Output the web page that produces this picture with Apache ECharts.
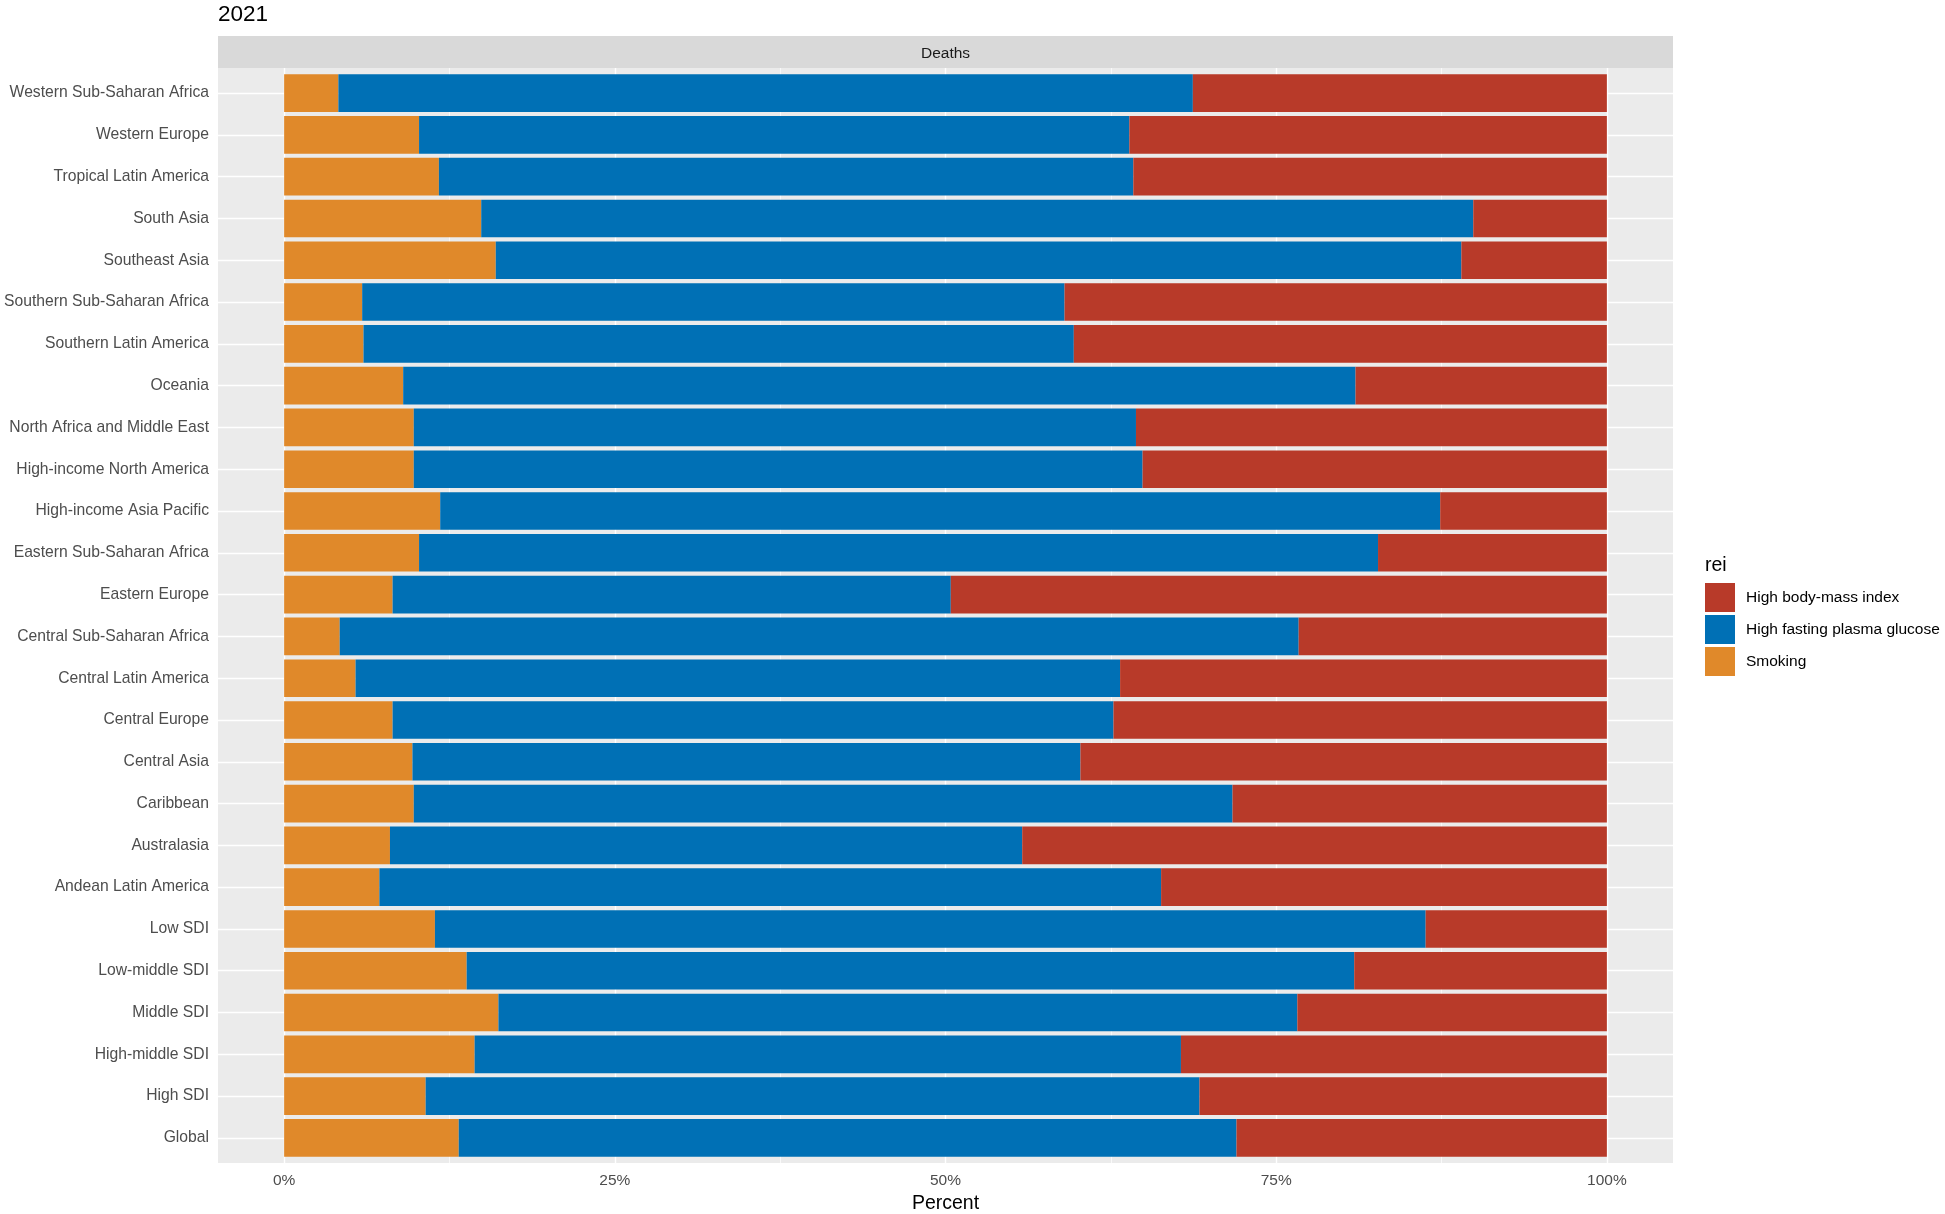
<!DOCTYPE html>
<html>
<head>
<meta charset="utf-8">
<script src="https://cdn.jsdelivr.net/npm/echarts@6/dist/echarts.min.js"></script>
<style>
html,body{margin:0;padding:0;background:#fff;}
#chart{width:1945px;height:1214px;}
</style>
</head>
<body>
<div id="chart"></div>
<script>
// ---- data (top to bottom as drawn) ----
const categories = [
  'Western Sub-Saharan Africa','Western Europe','Tropical Latin America','South Asia','Southeast Asia',
  'Southern Sub-Saharan Africa','Southern Latin America','Oceania','North Africa and Middle East',
  'High-income North America','High-income Asia Pacific','Eastern Sub-Saharan Africa','Eastern Europe',
  'Central Sub-Saharan Africa','Central Latin America','Central Europe','Central Asia','Caribbean',
  'Australasia','Andean Latin America','Low SDI','Low-middle SDI','Middle SDI','High-middle SDI',
  'High SDI','Global'
];
const smoking = [4.1,10.2,11.7,14.9,16.0,5.9,6.0,9.0,9.8,9.8,11.8,10.2,8.2,4.2,5.4,8.2,9.7,9.8,8.0,7.2,11.4,13.8,16.2,14.4,10.7,13.2];
const glucose = [64.6,53.7,52.5,75.0,73.0,53.1,53.7,72.0,54.6,55.1,75.6,72.5,42.2,72.5,57.8,54.5,50.5,61.9,47.8,59.1,74.9,67.1,60.4,53.4,58.5,58.8];
const bmi     = [31.3,36.1,35.8,10.1,11.0,41.0,40.3,19.0,35.6,35.1,12.6,17.3,49.6,23.3,36.8,37.3,39.8,28.3,44.2,33.7,13.7,19.1,23.4,32.2,30.8,28.0];
const seriesNames = ['Smoking','High fasting plasma glucose','High body-mass index'];
const legendOrder = ['High body-mass index','High fasting plasma glucose','Smoking'];
const xTicks = [0,25,50,75,100];
const xMinor = [12.5,37.5,62.5,87.5];
const facetLabel = 'Deaths';
const plotTitle = '2021';
const legendTitle = 'rei';
const xTitle = 'Percent';

const FONT = '"Liberation Sans", Arial, sans-serif';
const colors = {'Smoking':'#E0892A','High fasting plasma glucose':'#0070B5','High body-mass index':'#B83A29'};

// panel geometry
const PL = 218, PR = 1673, PT = 68, PB = 1163, W = 1945, H = 1214;
const unit = (PB - PT) / (categories.length - 1 + 1.2);

const chart = echarts.init(document.getElementById('chart'), null, {renderer:'canvas'});

const gridLines = [];
xTicks.forEach(v => gridLines.push({xAxis: v, lineStyle:{width:1.4}}));
xMinor.forEach(v => gridLines.push({xAxis: v, lineStyle:{width:0.7}}));
categories.forEach((c,i) => gridLines.push({yAxis: i, lineStyle:{width:1.4}}));

const valueSets = {'Smoking':smoking,'High fasting plasma glucose':glucose,'High body-mass index':bmi};

const option = {
  animation:false,
  backgroundColor:'#fff',
  textStyle:{fontFamily:FONT},
  grid:[
    {left:PL, right:W-PR, top:PT, bottom:H-PB, show:true, backgroundColor:'#EBEBEB', borderWidth:0, containLabel:false, outerBoundsMode:'none'},
    {left:PL, right:W-PR, top:PT+0.1*unit, bottom:H-PB+0.1*unit, show:false, containLabel:false, outerBoundsMode:'none'}
  ],
  xAxis:[
    {gridIndex:0, type:'value', min:-5, max:105,
     axisLine:{show:false}, splitLine:{show:false},
     axisTick:{show:true, length:4, customValues:xTicks, lineStyle:{color:'#333333', width:1}},
     axisLabel:{show:true, customValues:xTicks, margin:10, fontSize:15.5, color:'#4D4D4D', fontFamily:FONT, formatter: v => v + '%'},
     name:xTitle, nameLocation:'middle', nameGap:31,
     nameTextStyle:{fontSize:19.5, color:'#000', fontFamily:FONT}},
    {gridIndex:1, type:'value', min:-5, max:105, show:false}
  ],
  yAxis:[
    {gridIndex:0, type:'value', min:-0.6, max:categories.length-1+0.6, inverse:true, show:false},
    {gridIndex:1, type:'category', data:categories, inverse:true,
     axisLine:{show:false},
     axisTick:{show:true, length:4, alignWithLabel:true, lineStyle:{color:'#333333', width:1}},
     axisLabel:{fontSize:15.7, color:'#4D4D4D', margin:9, fontFamily:FONT, padding:[2,0,0,0]},
     splitLine:{show:false}}
  ],
  legend:{
    data:legendOrder, orient:'vertical', left:1705, top:583, padding:0,
    itemWidth:30, itemHeight:29, itemGap:3, icon:'rect', selectedMode:false,
    textStyle:{fontSize:15.5, color:'#000', fontFamily:FONT, padding:[3,0,0,6]}
  },
  graphic:[
    {type:'rect', shape:{x:PL, y:36, width:PR-PL, height:PT-36}, style:{fill:'#D9D9D9'}, silent:true},
    {type:'text', x:(PL+PR)/2, y:53.5, style:{text:facetLabel, font:'15.5px ' + FONT, fill:'#1A1A1A', align:'center', verticalAlign:'middle'}, silent:true},
    {type:'text', x:PL, y:15, style:{text:plotTitle, font:'22.5px ' + FONT, fill:'#000', align:'left', verticalAlign:'middle'}, silent:true},
    {type:'text', x:1705, y:566, style:{text:legendTitle, font:'19.5px ' + FONT, fill:'#000', align:'left', verticalAlign:'middle'}, silent:true}
  ],
  series:[
    {name:'__grid', type:'line', xAxisIndex:0, yAxisIndex:0, data:[], silent:true,
     markLine:{silent:true, symbol:'none', z:1, animation:false, label:{show:false},
       lineStyle:{color:'#FFFFFF', type:'solid', width:1.4}, emphasis:{disabled:true},
       data:gridLines}}
  ].concat(seriesNames.map(n => ({
    name:n, type:'bar', stack:'total', xAxisIndex:1, yAxisIndex:1, barWidth:'90%', z:3,
    itemStyle:{color:colors[n]}, emphasis:{disabled:true},
    data:valueSets[n]
  })))
};
chart.setOption(option);
</script>
</body>
</html>
